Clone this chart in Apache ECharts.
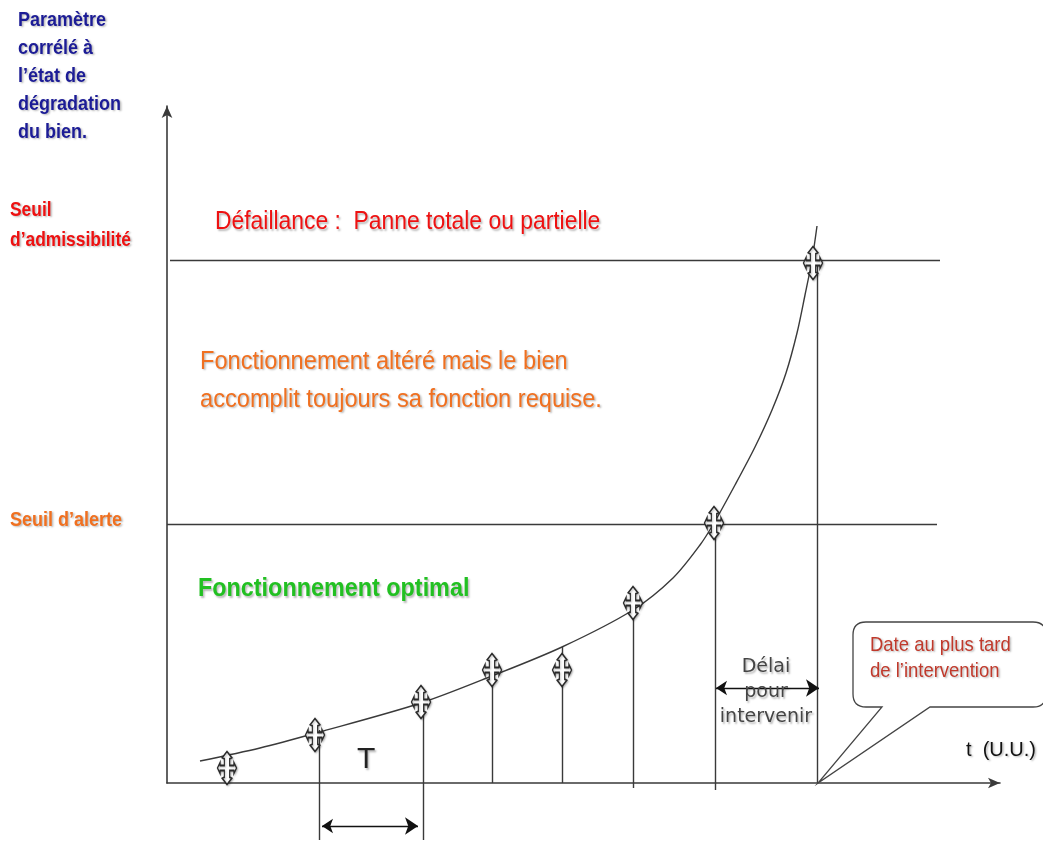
<!DOCTYPE html>
<html>
<head>
<meta charset="utf-8">
<script src="https://cdn.jsdelivr.net/npm/echarts@6/dist/echarts.min.js"></script>
<style>
html,body{margin:0;padding:0;background:#fff;}
#chart{width:1043px;height:843px;}
</style>
</head>
<body>
<div id="chart"></div>
<script>
// ---- Data (units: t along x, degradation parameter along y) ----
const curveX = [33, 93, 149, 254, 325, 395, 466, 506, 533, 547, 568, 588, 605, 619, 630, 638, 645, 650];
const curveY = [22, 35, 50, 80, 107, 136, 173, 205, 238, 260, 298, 336, 373, 410, 450, 488, 523, 557];
const inspectX = [60, 148, 254, 325, 395, 466, 547, 646];
const inspectY = [15, 48, 81, 113, 113, 180, 260, 520];
const dropX = [152, 256, 325, 395, 466, 548, 650];
const dropTop = [53, 81, 107, 136, 180, 263, 523];
const dropBottom = [-57, -57, 0, 0, -5, -7, 0];
const seuilAlerte = 259;
const seuilAdmissibilite = 523;
const alertLineEnd = 770;
const admissLineEnd = 773;
const periodArrow = [[155, -43], [251, -43]];
const delaiArrow = [[549, 95], [652, 95]];
const deadline = [651, 0];
const xMax = 833, yMax = 677;

const sans = "'Liberation Sans',Arial,sans-serif";
const shadow = {textShadowColor:'rgba(0,0,0,0.28)', textShadowBlur:2, textShadowOffsetX:1.5, textShadowOffsetY:1.5};

const chart = echarts.init(document.getElementById('chart'), null, {renderer:'canvas'});

const lineColor = '#3a3a3a';
const markerPath = 'path://M0,-16 L4.5,-10 L2.5,-9 L2.5,-2.5 L6.5,-2.5 L6.5,-5.5 L9,0 L6.5,5.5 L6.5,2.5 L2.5,2.5 L2.5,9 L4.5,10 L0,16 L-4.5,10 L-2.5,9 L-2.5,2.5 L-6.5,2.5 L-6.5,5.5 L-9,0 L-6.5,-5.5 L-6.5,-2.5 L-2.5,-2.5 L-2.5,-9 L-4.5,-10 Z';

function txt(x, y, text, style, sx) {
  return {type:'text', x:x, y:y, scaleX:sx || 1, z:50,
    style:Object.assign({text:text, fontFamily:sans, textVerticalAlign:'top', verticalAlign:'top'}, shadow, style)};
}

const option = {
  animation:false,
  backgroundColor:'#ffffff',
  grid:{left:167, right:43, top:106, bottom:60},
  xAxis:{type:'value', min:0, max:xMax,
    axisLine:{show:true, onZero:true, symbol:['none','arrow'], symbolSize:[8,12], lineStyle:{color:lineColor, width:1.6}},
    axisTick:{show:false}, axisLabel:{show:false}, splitLine:{show:false}},
  yAxis:{type:'value', min:0, max:yMax,
    axisLine:{show:true, onZero:false, symbol:['none','arrow'], symbolSize:[8,12], lineStyle:{color:lineColor, width:1.6}},
    axisTick:{show:false}, axisLabel:{show:false}, splitLine:{show:false}},
  series:[
    { // thresholds
      type:'lines', coordinateSystem:'cartesian2d', clip:false, symbol:'none', z:3,
      lineStyle:{color:lineColor, width:1.4, opacity:1},
      data:[
        {coords:[[3, seuilAdmissibilite],[admissLineEnd, seuilAdmissibilite]]},
        {coords:[[0, seuilAlerte],[alertLineEnd, seuilAlerte]]}
      ]
    },
    { // drop lines
      type:'lines', coordinateSystem:'cartesian2d', clip:false, symbol:'none', z:3,
      lineStyle:{color:lineColor, width:1.4, opacity:1},
      data: dropX.map((x,i)=>({coords:[[x, dropTop[i]],[x, dropBottom[i]]]}))
    },
    { // degradation curve
      type:'line', data: curveX.map((x,i)=>[x, curveY[i]]), smooth:0.3,
      showSymbol:false, symbol:'none', clip:false, z:4,
      lineStyle:{color:lineColor, width:1.4}
    },
    { // inspections
      type:'scatter', data: inspectX.map((x,i)=>[x, inspectY[i]]), symbol:markerPath,
      symbolSize:[19,33], clip:false, z:6,
      itemStyle:{color:'#ffffff', borderColor:'#2a2a2a', borderWidth:1.5, opacity:1,
        shadowColor:'rgba(0,0,0,0.25)', shadowBlur:2, shadowOffsetX:1, shadowOffsetY:1}
    },
    { // period & delay arrows
      type:'lines', coordinateSystem:'cartesian2d', clip:false, z:5,
      symbol:['arrow','arrow'], symbolSize:[11,13],
      lineStyle:{color:'#111', width:1.4, opacity:1},
      data:[{coords:periodArrow},{coords:delaiArrow}]
    },
    { // callout bubble anchored at the deadline
      type:'custom', coordinateSystem:'cartesian2d', clip:false, z:7,
      data:[deadline],
      renderItem:function(params, api){
        const p = api.coord([api.value(0), api.value(1)]);
        const x0 = p[0]+35, x1 = p[0]+228, y0 = p[1]-161, y1 = p[1]-76, r = 13;
        const tl = p[0]+64, tr = p[0]+112;
        const d = 'M'+(x0+r)+','+y0+' L'+(x1-r)+','+y0+' Q'+x1+','+y0+' '+x1+','+(y0+r)+
          ' L'+x1+','+(y1-r)+' Q'+x1+','+y1+' '+(x1-r)+','+y1+
          ' L'+tr+','+y1+' L'+p[0]+','+p[1]+' L'+tl+','+y1+
          ' L'+(x0+r)+','+y1+' Q'+x0+','+y1+' '+x0+','+(y1-r)+
          ' L'+x0+','+(y0+r)+' Q'+x0+','+y0+' '+(x0+r)+','+y0+' Z';
        return {type:'path', shape:{pathData:d},
          style:{fill:'#ffffff', stroke:'#444', lineWidth:1.3}};
      }
    }
  ],
  graphic:[
    txt(18, 6, 'Paramètre\ncorrélé à\nl\u2019état de\ndégradation\ndu bien.', {fill:'#1c1c96', fontSize:20, fontWeight:'bold', lineHeight:28}, 0.9),
    txt(10, 195, 'Seuil\nd\u2019admissibilité', {fill:'#ee1111', fontSize:20, fontWeight:'bold', lineHeight:30}, 0.87),
    txt(10, 510, 'Seuil d\u2019alerte', {fill:'#f07020', fontSize:20, fontWeight:'bold'}, 0.9),
    txt(215, 210, 'Défaillance :  Panne totale ou partielle', {fill:'#ee1111', fontSize:25}, 0.915),
    txt(200, 343, 'Fonctionnement altéré mais le bien\naccomplit toujours sa fonction requise.', {fill:'#f07020', fontSize:25, lineHeight:38}, 0.945),
    txt(198, 577, 'Fonctionnement optimal', {fill:'#22c022', fontSize:25, fontWeight:'bold'}, 0.935),
    txt(357, 745, 'T', {fill:'#222', fontSize:30}),
    {type:'text', x:766, y:655, z:50, style:Object.assign({text:'Délai\npour\nintervenir', fill:'#444', fontSize:19, lineHeight:25, align:'center', textAlign:'center', verticalAlign:'top', textVerticalAlign:'top', fontFamily:"'DejaVu Sans','Liberation Sans',sans-serif"}, shadow)},
    txt(870, 632, 'Date au plus tard\nde l\u2019intervention', {fill:'#c0392b', fontSize:21, lineHeight:26}, 0.88),
    txt(966, 740, 't  (U.U.)', {fill:'#111', fontSize:20})
  ]
};
chart.setOption(option);
</script>
</body>
</html>
